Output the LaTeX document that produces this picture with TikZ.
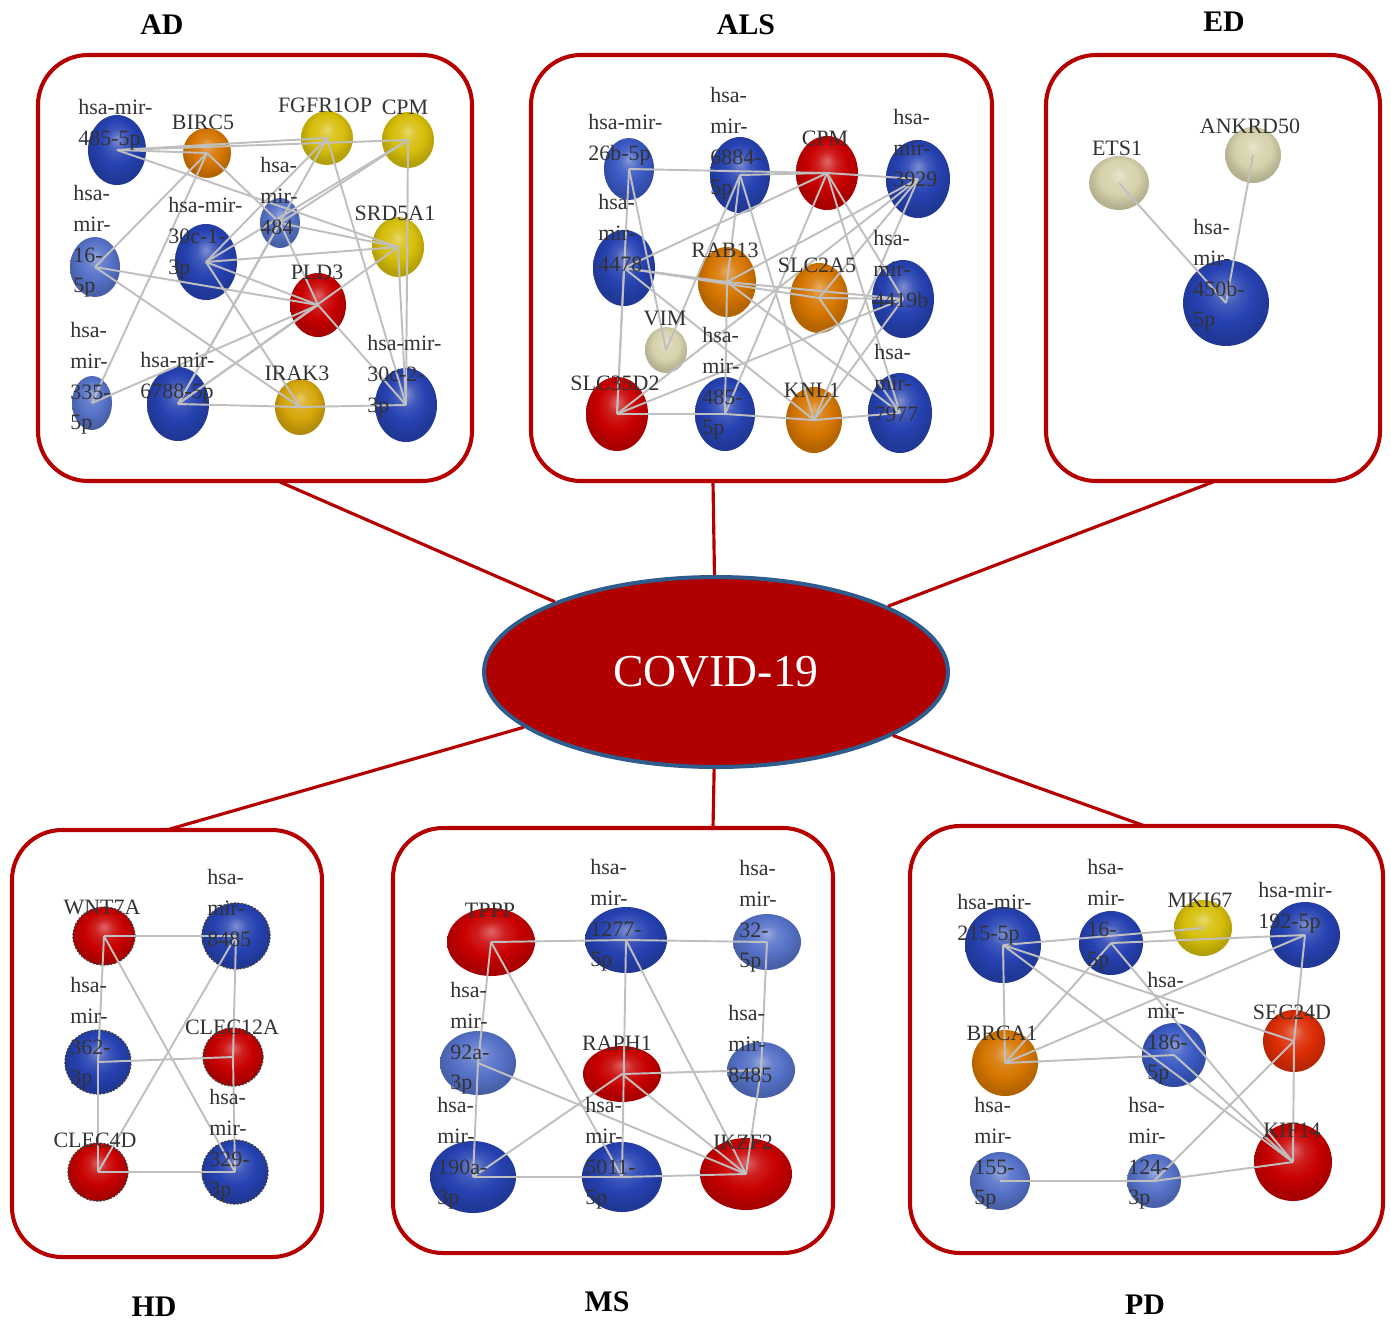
\documentclass[tikz,border=0pt]{standalone}
\usepackage{fontspec}
\setmainfont{Liberation Serif}
\usetikzlibrary{shapes.geometric}
\definecolor{cblue}{RGB}{38,66,178}
\definecolor{cmblue}{RGB}{58,90,195}
\definecolor{clblue}{RGB}{86,114,200}
\definecolor{corange}{RGB}{214,118,0}
\definecolor{cyellow}{RGB}{214,190,10}
\definecolor{cgold}{RGB}{214,166,10}
\definecolor{cred}{RGB}{200,0,0}
\definecolor{csec}{RGB}{220,45,5}
\definecolor{cbeige}{RGB}{214,210,172}
\definecolor{panelred}{RGB}{180,0,0}
\definecolor{covred}{RGB}{176,0,0}
\definecolor{covblue}{RGB}{46,92,140}
\colorlet{ballc}{blue}
\pgfdeclareradialshading[ballc]{sball}{\pgfqpoint{0bp}{8bp}}{color(0bp)=(ballc!60!white); color(8bp)=(ballc!88!white); color(16bp)=(ballc); color(25bp)=(ballc!85!black); color(50bp)=(ballc!70!black)}
\newcommand\lblfont{\fontsize{12.5}{17.5}\selectfont}
\begin{document}
\begin{tikzpicture}[x=0.02cm, y=-0.02cm,
  setball/.code={\colorlet{ballc}{#1}},
  sph/.style={shape=ellipse, inner sep=0pt, shade, shading=sball, setball=#1},
  rr/.style 2 args={minimum width={2*#1*0.02cm}, minimum height={2*#2*0.02cm}},
  hdb/.style={draw=black!75, dash pattern=on 1.2pt off 0.8pt, line width=0.7pt},
  pnl/.style 2 args={draw=panelred, line width=2.3pt, rounded corners=1cm, minimum width={#1*0.02cm}, minimum height={#2*0.02cm}, inner sep=0pt},
  conn/.style={draw=panelred, line width=1.8pt},
  lnk/.style={draw=gray!50, line width=1.1pt},
  lbl/.style={font=\lblfont, text=black!80, inner sep=0pt, align=left, anchor=north west},
  glbl/.style={font=\lblfont, text=black!80, inner sep=0pt},
  ttl/.style={font=\fontsize{17}{20}\selectfont\bfseries, inner sep=0pt}]
\path[use as bounding box] (0,0) rectangle (1391,1322);

% central node and panels
\node[shape=ellipse, fill=covred, draw=covblue, line width=2.3pt, minimum width=9.28cm, minimum height=3.8cm, text=white, font=\fontsize{26}{30}\selectfont] (covid) at (716,672) {COVID-19};
\node[pnl={434}{426}] (adbox) at (255,268) {};
\node[pnl={461}{426}] (alsbox) at (761.5,268) {};
\node[pnl={334}{426}] (edbox) at (1213,268) {};
\node[pnl={310}{427}] (hdbox) at (167,1043.5) {};
\node[pnl={440}{425}] (msbox) at (613,1040.5) {};
\node[pnl={473}{427}] (pdbox) at (1146.5,1039.5) {};

\coordinate (adc) at (280,482);
\coordinate (alsc) at (713,482);
\coordinate (edc) at (1213,482);
\coordinate (hdc) at (170,829);
\coordinate (msc) at (713,828);
\coordinate (pdc) at (1145,826);
\foreach \c in {adc,alsc,edc,hdc,msc,pdc} \draw[conn] (\c) -- (covid);

% titles
\node[ttl] (tad) at (162,25) {AD};
\node[ttl] (tals) at (746,25) {ALS};
\node[ttl] (ted) at (1224,22) {ED};
\node[ttl] (thd) at (154,1307) {HD};
\node[ttl] (tms) at (607,1302) {MS};
\node[ttl] (tpd) at (1145,1305) {PD};

% ---------------- AD ----------------
\node[sph=cblue, rr={29}{35}] (adm485) at (117,150) {};
\node[sph=corange, rr={24}{25}] (adbirc) at (207,153) {};
\node[sph=cyellow, rr={26}{27}] (adfgf) at (327,138) {};
\node[sph=cyellow, rr={26}{28}] (adcpm) at (408,140) {};
\node[sph=clblue, rr={20}{25}] (adm484) at (280,223) {};
\node[sph=cblue, rr={31}{38}] (adm30a) at (206,262) {};
\node[sph=cyellow, rr={26}{30}] (adsrd) at (398,247) {};
\node[sph=clblue, rr={25}{30}] (adm16) at (95,267) {};
\node[sph=cred, rr={28}{32}] (adpld) at (318,305) {};
\node[sph=clblue, rr={20}{27}] (adm335) at (92,403) {};
\node[sph=cblue, rr={31}{37}] (adm6788) at (178,404) {};
\node[sph=cgold, rr={25}{28}] (adirak) at (300,407) {};
\node[sph=cblue, rr={31}{37}] (adm30b) at (406,405) {};
\foreach \a/\b in {adm485/adbirc, adm485/adfgf, adm485/adcpm, adm485/adsrd,
  adm16/adbirc, adm16/adpld, adm16/adirak, adm335/adbirc, adm335/adpld,
  adm30a/adfgf, adm30a/adcpm, adm30a/adsrd, adm30a/adpld, adm30a/adirak,
  adm484/adbirc, adm484/adcpm, adm484/adsrd, adm484/adpld,
  adm6788/adfgf, adm6788/adm484, adm6788/adsrd, adm6788/adpld, adm6788/adirak,
  adm30b/adfgf, adm30b/adcpm, adm30b/adsrd, adm30b/adpld, adm30b/adirak}
  \draw[lnk] (\a.center) -- (\b.center);
\node[lbl] (adm485l) at (78,99) {hsa-mir-\\485-5p};
\node[glbl] (adbircl) at (203,122) {BIRC5};
\node[glbl] (adfgfl) at (325,105) {FGFR1OP};
\node[glbl] (adcpml) at (405,107) {CPM};
\node[lbl] (adm484l) at (260,157) {hsa-\\mir-\\484};
\node[lbl] (adm30al) at (168,197) {hsa-mir-\\30c-1-\\3p};
\node[glbl] (adsrdl) at (395,213) {SRD5A1};
\node[lbl] (adm16l) at (73,185) {hsa-\\mir-\\16-\\5p};
\node[glbl] (adpldl) at (317,272) {PLD3};
\node[lbl] (adm335l) at (70,322) {hsa-\\mir-\\335-\\5p};
\node[lbl] (adm6788l) at (140,352) {hsa-mir-\\6788-5p};
\node[glbl] (adirakl) at (297,373) {IRAK3};
\node[lbl] (adm30bl) at (367,335) {hsa-mir-\\30c-2-\\3p};

% ---------------- ALS ----------------
\node[sph=cmblue, rr={25}{31}] (alm26) at (629,169) {};
\node[sph=cblue, rr={30}{38}] (alm6884) at (740,175) {};
\node[sph=cred, rr={31}{37}] (alcpm) at (827,173) {};
\node[sph=cblue, rr={32}{39}] (alm3929) at (918,179) {};
\node[sph=cblue, rr={31}{38}] (alm4478) at (624,268) {};
\node[sph=corange, rr={29}{35}] (alrab) at (727,282) {};
\node[sph=corange, rr={29}{35}] (alslc2) at (819,298) {};
\node[sph=cblue, rr={31}{39}] (alm4419) at (903,299) {};
\node[sph=cbeige, rr={21}{23}] (alvim) at (666,350) {};
\node[sph=cred, rr={31}{37}] (alslc35) at (617,414) {};
\node[sph=cblue, rr={30}{37}] (alm485) at (725,414) {};
\node[sph=corange, rr={28}{33}] (alknl) at (814,420) {};
\node[sph=cblue, rr={32}{40}] (alm7977) at (900,413) {};
\foreach \a/\b in {alm26/alcpm, alm6884/alcpm, alm3929/alcpm, alm26/alslc35, alm26/alvim,
  alm4478/alcpm, alm4478/alslc2, alm4478/alrab, alm4478/alknl, alm4478/alslc35,
  alm6884/alvim, alm6884/alrab, alm6884/alknl,
  alm3929/alrab, alm3929/alslc2, alm3929/alslc35, alm3929/alknl,
  alm4419/alrab, alm4419/alslc2, alm4419/alslc35, alm4419/alknl, alm4419/alcpm,
  alm485/alslc35, alm485/alknl, alm485/alcpm, alm485/alrab,
  alm7977/alknl, alm7977/alcpm, alm7977/alrab, alm7977/alslc2}
  \draw[lnk] (\a.center) -- (\b.center);
\node[lbl] (alm26l) at (588,114) {hsa-mir-\\26b-5p};
\node[lbl] (alm6884l) at (710,87) {hsa-\\mir-\\6884-\\5p};
\node[glbl] (alcpml) at (825,138) {CPM};
\node[lbl] (alm3929l) at (893,109) {hsa-\\mir-\\3929};
\node[lbl] (alm4478l) at (598,194) {hsa-\\mir-\\4478};
\node[glbl] (alrabl) at (725,250) {RAB13};
\node[glbl] (alslc2l) at (817,265) {SLC2A5};
\node[lbl] (alm4419l) at (873,230) {hsa-\\mir-\\4419b};
\node[glbl] (alviml) at (665,318) {VIM};
\node[glbl] (alslc35l) at (615,383) {SLC35D2};
\node[lbl] (alm485l) at (702,327) {hsa-\\mir-\\485-\\5p};
\node[glbl] (alknll) at (812,390) {KNL1};
\node[lbl] (alm7977l) at (874,344) {hsa-\\mir-\\7977};

% ---------------- ED ----------------
\node[sph=cbeige, rr={30}{27}] (edets) at (1119,183) {};
\node[sph=cbeige, rr={28}{28}] (edank) at (1253,155) {};
\node[sph=cblue, rr={43}{43}] (edm450) at (1226,303) {};
\foreach \a/\b in {edets/edm450, edank/edm450} \draw[lnk] (\a.center) -- (\b.center);
\node[glbl] (edetsl) at (1117,148) {ETS1};
\node[glbl] (edankl) at (1250,126) {ANKRD50};
\node[lbl] (edm450l) at (1193,219) {hsa-\\mir-\\450b-\\5p};

% ---------------- HD ----------------
\node[sph=cred, hdb, rr={31}{29}] (hdwnt) at (104,936) {};
\node[sph=cblue, hdb, rr={34}{33}] (hdm8485) at (236,936) {};
\node[sph=cblue, hdb, rr={33}{32}] (hdm362) at (98,1062) {};
\node[sph=cred, hdb, rr={30}{29}] (hdclec12) at (233,1057) {};
\node[sph=cred, hdb, rr={30}{29}] (hdclec4) at (98,1172) {};
\node[sph=cblue, hdb, rr={33}{32}] (hdm329) at (235,1172) {};
\foreach \a/\b in {hdwnt/hdm8485, hdwnt/hdm362, hdwnt/hdm329, hdm8485/hdclec4, hdm8485/hdclec12,
  hdm362/hdclec12, hdm362/hdclec4, hdclec4/hdm329, hdclec12/hdm329}
  \draw[lnk] (\a.center) -- (\b.center);
\node[glbl] (hdwntl) at (102,907) {WNT7A};
\node[lbl] (hdm8485l) at (207,869) {hsa-\\mir-\\8485};
\node[lbl] (hdm362l) at (70,977) {hsa-\\mir-\\362-\\3p};
\node[glbl] (hdclec12l) at (232,1027) {CLEC12A};
\node[glbl] (hdclec4l) at (95,1140) {CLEC4D};
\node[lbl] (hdm329l) at (209,1089) {hsa-\\mir-\\329-\\3p};

% ---------------- MS ----------------
\node[sph=cred, rr={44}{34}] (mstppp) at (491,942) {};
\node[sph=cblue, rr={41}{33}] (msm1277) at (626,940) {};
\node[sph=clblue, rr={34}{28}] (msm32) at (767,942) {};
\node[sph=clblue, rr={38}{32}] (msm92) at (478,1063) {};
\node[sph=cred, rr={39}{28}] (msraph) at (622,1074) {};
\node[sph=clblue, rr={34}{28}] (msm8485) at (761,1070) {};
\node[sph=cblue, rr={43}{36}] (msm190) at (473,1177) {};
\node[sph=cblue, rr={40}{35}] (msm5011) at (622,1177) {};
\node[sph=cred, rr={46}{36}] (msikzf) at (746,1174) {};
\foreach \a/\b in {mstppp/msm1277, msm1277/msm32, mstppp/msm92, mstppp/msm5011, msm1277/msm5011,
  msm1277/msikzf, msraph/msm8485, msraph/msm190, msraph/msikzf, msm92/msikzf, msm92/msm190,
  msm190/msm5011, msm5011/msikzf, msm32/msm8485, msm8485/msikzf}
  \draw[lnk] (\a.center) -- (\b.center);
\node[glbl] (mstpppl) at (490,910) {TPPP};
\node[lbl] (msm1277l) at (590,859) {hsa-\\mir-\\1277-\\5p};
\node[lbl] (msm32l) at (739,860) {hsa-\\mir-\\32-\\5p};
\node[lbl] (msm92l) at (450,982) {hsa-\\mir-\\92a-\\3p};
\node[glbl] (msraphl) at (617,1043) {RAPH1};
\node[lbl] (msm8485l) at (728,1005) {hsa-\\mir-\\8485};
\node[lbl] (msm190l) at (437,1097) {hsa-\\mir-\\190a-\\3p};
\node[lbl] (msm5011l) at (585,1097) {hsa-\\mir-\\5011-\\5p};
\node[glbl] (msikzfl) at (743,1142) {IKZF2};

% ---------------- PD ----------------
\node[sph=cblue, rr={38}{38}] (pdm215) at (1003,945) {};
\node[sph=cblue, rr={32}{32}] (pdm16) at (1111,943) {};
\node[sph=cyellow, rr={29}{28}] (pdmki) at (1203,928) {};
\node[sph=cblue, rr={35}{33}] (pdm192) at (1305,935) {};
\node[sph=corange, rr={33}{33}] (pdbrca) at (1005,1063) {};
\node[sph=cmblue, rr={32}{32}] (pdm186) at (1174,1055) {};
\node[sph=csec, rr={31}{31}] (pdsec) at (1294,1041) {};
\node[sph=clblue, rr={30}{29}] (pdm155) at (1000,1181) {};
\node[sph=clblue, rr={27}{27}] (pdm124) at (1154,1181) {};
\node[sph=cred, rr={39}{39}] (pdkif) at (1293,1162) {};
\foreach \a/\b in {pdm215/pdmki, pdm16/pdm192, pdm215/pdbrca, pdm215/pdsec, pdm215/pdkif,
  pdm16/pdbrca, pdm16/pdkif, pdbrca/pdm192, pdbrca/pdm186, pdm192/pdsec, pdsec/pdkif,
  pdsec/pdm124, pdm186/pdkif, pdm155/pdm124, pdm124/pdkif}
  \draw[lnk] (\a.center) -- (\b.center);
\node[lbl] (pdm215l) at (957,894) {hsa-mir-\\215-5p};
\node[lbl] (pdm16l) at (1087,859) {hsa-\\mir-\\16-\\5p};
\node[glbl] (pdmkil) at (1200,900) {MKI67};
\node[lbl] (pdm192l) at (1258,882) {hsa-mir-\\192-5p};
\node[glbl] (pdbrcal) at (1002,1033) {BRCA1};
\node[lbl] (pdm186l) at (1147,972) {hsa-\\mir-\\186-\\5p};
\node[glbl] (pdsecl) at (1292,1012) {SEC24D};
\node[lbl] (pdm155l) at (974,1097) {hsa-\\mir-\\155-\\5p};
\node[lbl] (pdm124l) at (1128,1097) {hsa-\\mir-\\124-\\3p};
\node[glbl] (pdkifl) at (1292,1130) {KIF14};
\end{tikzpicture}
\end{document}
